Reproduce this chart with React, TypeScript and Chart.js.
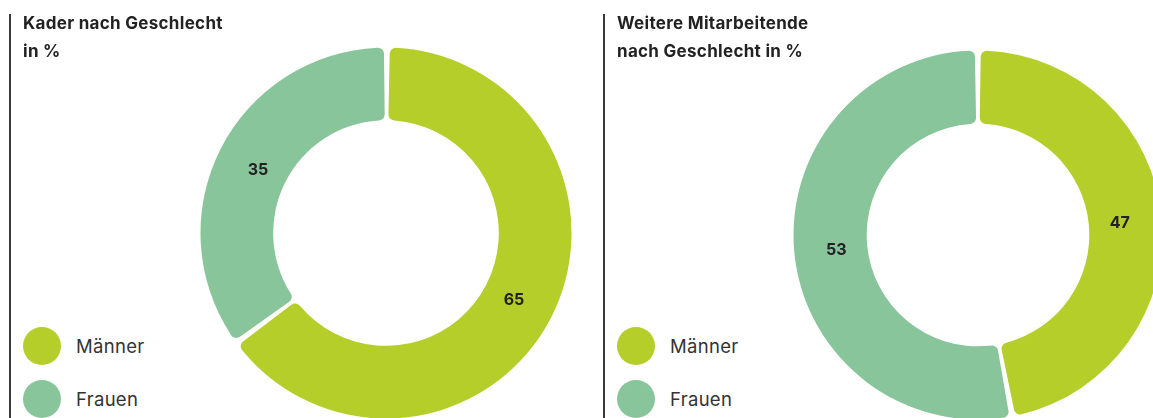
import React, { useEffect, useRef } from 'react';
import { Chart, registerables } from 'chart.js';

Chart.register(...registerables);

const categories = ['Männer', 'Frauen'];
const kaderValues = [65, 35];
const mitarbeitendeValues = [47, 53];
const seriesColors = ['#b5ce29', '#88c59b'];
const kaderTitle = ['Kader nach Geschlecht', 'in %'];
const mitarbeitendeTitle = ['Weitere Mitarbeitende', 'nach Geschlecht in %'];

const FONT = 'Inter, "Noto Sans", sans-serif';

const valueLabels = {
  id: 'valueLabels',
  afterDatasetsDraw(chart: any) {
    const ctx = chart.ctx;
    const meta = chart.getDatasetMeta(0);
    const data = chart.data.datasets[0].data;
    ctx.save();
    ctx.font = `700 16px ${FONT}`;
    ctx.fillStyle = '#222222';
    ctx.textAlign = 'center';
    ctx.textBaseline = 'middle';
    meta.data.forEach((arc: any, i: number) => {
      const p = arc.getProps(['x', 'y', 'startAngle', 'endAngle', 'innerRadius', 'outerRadius'], true);
      const mid = (p.startAngle + p.endAngle) / 2;
      const r = (p.innerRadius + p.outerRadius) / 2 - 4;
      ctx.fillText(String(data[i]), p.x + Math.cos(mid) * r, p.y + Math.sin(mid) * r + 2);
    });
    ctx.restore();
  },
};

const SIZE = 380;

function Donut({ values, cx, cy, radius, cutout }: { values: number[]; cx: number; cy: number; radius: number; cutout: string }) {
  const ref = useRef<HTMLCanvasElement | null>(null);
  useEffect(() => {
    if (!ref.current) return;
    const chart = new Chart(ref.current, {
      type: 'doughnut',
      data: {
        labels: categories,
        datasets: [
          {
            data: values,
            backgroundColor: seriesColors,
            borderWidth: 0,
            borderRadius: 6,
            spacing: 3,
          },
        ],
      },
      options: {
        responsive: false,
        animation: false,
        radius: radius,
        cutout: cutout,
        layout: { padding: 0 },
        plugins: { legend: { display: false }, tooltip: { enabled: false } },
      } as any,
      plugins: [valueLabels],
    });
    return () => chart.destroy();
  }, []);
  return (
    <canvas
      ref={ref}
      width={SIZE}
      height={SIZE}
      style={{ position: 'absolute', left: cx - SIZE / 2, top: cy - SIZE / 2, width: SIZE, height: SIZE }}
    />
  );
}

function Panel({ left, title, values, cx, cy, radius, cutout }: any) {
  return (
    <div style={{ position: 'absolute', left, top: 0, width: 1153, height: 418 }}>
      <Donut values={values} cx={cx} cy={cy} radius={radius} cutout={cutout} />
      <div style={{ position: 'absolute', left: 9, top: 14, width: 1.5, height: 404, background: '#3a3a3a' }} />
      <div
        style={{
          position: 'absolute',
          left: 23,
          top: 9,
          fontFamily: FONT,
          fontWeight: 700,
          fontSize: 17,
          letterSpacing: 0.3,
          lineHeight: '28px',
          color: '#222',
          whiteSpace: 'nowrap',
        }}
      >
        {title.map((t: string, i: number) => (
          <div key={i}>{t}</div>
        ))}
      </div>
      {categories.map((c, i) => (
        <div key={c} style={{ position: 'absolute', left: 23, top: 326.5 + i * 53.5, height: 38, display: 'flex', alignItems: 'center' }}>
          <div style={{ width: 38, height: 38, borderRadius: '50%', background: seriesColors[i] }} />
          <div style={{ marginLeft: 15, fontFamily: FONT, fontSize: 18.5, letterSpacing: 0.3, color: '#333', whiteSpace: 'nowrap' }}>{c}</div>
        </div>
      ))}
    </div>
  );
}

export default function App() {
  return (
    <div style={{ position: 'absolute', left: 0, top: 0, width: 1153, height: 418, overflow: 'hidden', background: '#fff' }}>
      <Panel left={0} title={kaderTitle} values={kaderValues} cx={385.5} cy={233} radius={184} cutout="60.5%" />
      <Panel left={594} title={mitarbeitendeTitle} values={mitarbeitendeValues} cx={383.5} cy={235} radius={183} cutout="60%" />
    </div>
  );
}
